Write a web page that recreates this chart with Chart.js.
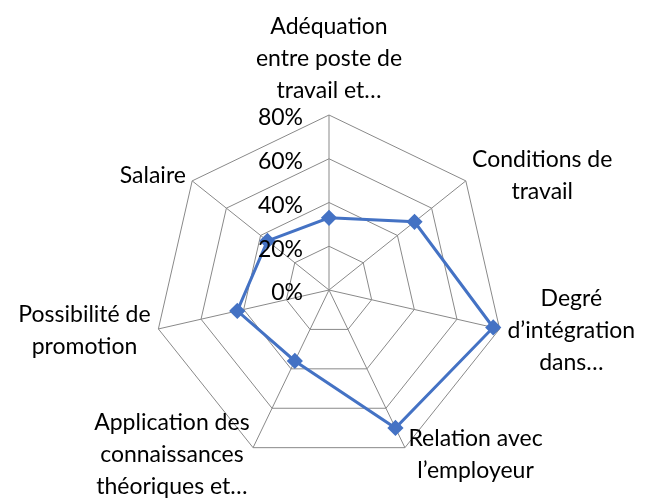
<!DOCTYPE html>
<html>
<head>
<meta charset="utf-8">
<script src="https://cdn.jsdelivr.net/npm/chart.js@4"></script>
<style>
  html, body { margin: 0; padding: 0; background: #fff; }
</style>
</head>
<body>
<canvas id="radar" width="650" height="498"></canvas>
<script>
// categories (axis labels, split on lines like the original)
let categories = [
  ['Adéquation', 'entre poste de', 'travail et…'],
  ['Conditions de', 'travail'],
  ['Degré', 'd’intégration', 'dans…'],
  ['Relation avec', 'l’employeur'],
  ['Application des', 'connaissances', 'théoriques et…'],
  ['Possibilité de', 'promotion'],
  ['Salaire']
];
// series values, in percent
let values = [33, 50, 77, 70, 36, 43, 36];
// ticks on the radial axis
let tickValues = [0, 20, 40, 60, 80];

const fontFamily = 'Lato, "Open Sans", sans-serif';
const fontSize = 23;
const lineHeight = 32;

// draw the percent labels to the left of the top axis, like Excel does
const tickLabelPlugin = {
  id: 'tickLabels',
  afterDraw(chart) {
    let scale = chart.scales.r;
    let ctx = chart.ctx;
    ctx.save();
    ctx.font = fontSize + 'px ' + fontFamily;
    ctx.fillStyle = '#000';
    ctx.textAlign = 'right';
    ctx.textBaseline = 'middle';
    tickValues.forEach(v => {
      let d = scale.getDistanceFromCenterForValue(v);
      ctx.fillText(v + '%', scale.xCenter - 26, scale.yCenter - d + 3);
    });
    ctx.restore();
  }
};

// category labels: centred lines, block placed next to each outer vertex
const pointLabelPlugin = {
  id: 'catLabels',
  afterDraw(chart) {
    let scale = chart.scales.r;
    let ctx = chart.ctx;
    ctx.save();
    ctx.font = fontSize + 'px ' + fontFamily;
    ctx.fillStyle = '#000';
    ctx.textAlign = 'center';
    ctx.textBaseline = 'middle';
    categories.forEach((lines, i) => {
      let p = scale.getPointPosition(i, scale.drawingArea + 8);
      let w = Math.max(...lines.map(l => ctx.measureText(l).width));
      let h = lines.length * lineHeight;
      let cx, top;
      if (Math.abs(p.x - scale.xCenter) < 2) {
        cx = p.x;
        top = p.y - h;
      } else if (p.x > scale.xCenter) {
        cx = p.x + w / 2;
        top = p.y - h / 2;
      } else {
        cx = p.x - w / 2;
        top = p.y - h / 2;
      }
      lines.forEach((l, k) => {
        ctx.fillText(l, cx, top + lineHeight * (k + 0.5));
      });
    });
    ctx.restore();
  }
};

let radarChart = new Chart('radar', {
  type: 'radar',
  data: {
    labels: categories,
    datasets: [{
      data: values,
      borderColor: '#4472C4',
      backgroundColor: '#4472C4',
      borderWidth: 3,
      fill: false,
      pointStyle: 'rectRot',
      pointRadius: 6,
      pointHoverRadius: 6,
      tension: 0
    }]
  },
  options: {
    responsive: false,
    animation: false,
    layout: { padding: { top: 115, bottom: 33, left: 154, right: 146 } },
    plugins: {
      legend: { display: false },
      tooltip: { enabled: false }
    },
    scales: {
      r: {
        min: 0,
        max: 80,
        ticks: { stepSize: 20, display: false },
        grid: { color: '#898989', lineWidth: 1 },
        angleLines: { color: '#898989', lineWidth: 1 },
        pointLabels: { display: false }
      }
    }
  },
  plugins: [tickLabelPlugin, pointLabelPlugin]
});
</script>
</body>
</html>
